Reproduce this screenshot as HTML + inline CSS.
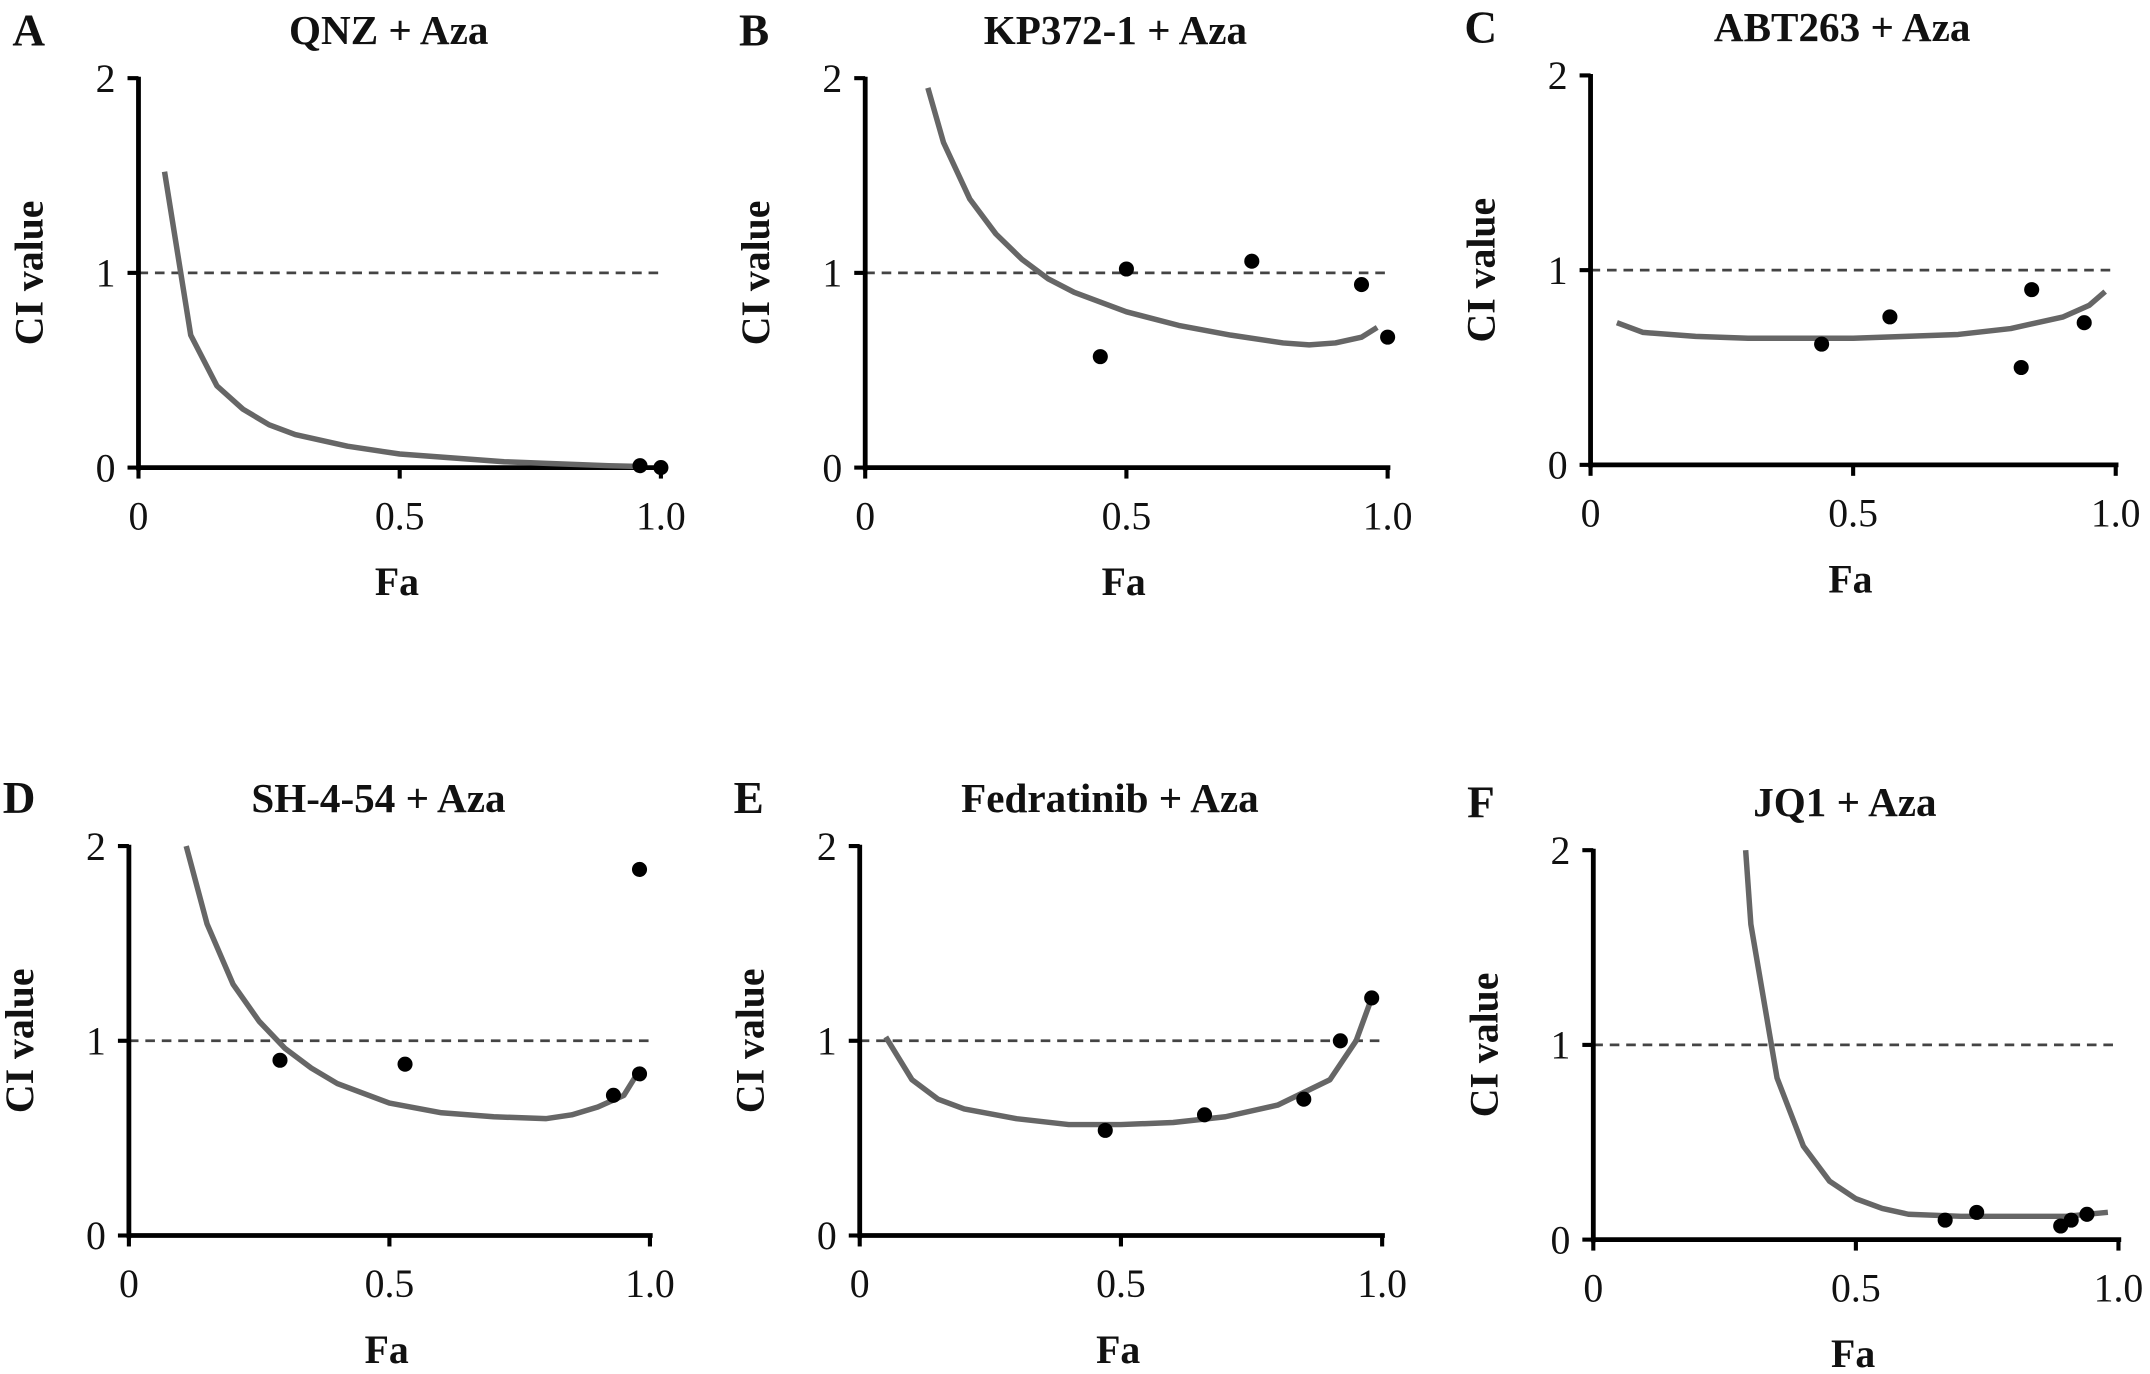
<!DOCTYPE html>
<html><head><meta charset="utf-8"><style>
html,body{margin:0;padding:0;background:#fff;}
svg{display:block;}
svg text{font-family:"Liberation Serif","DejaVu Serif",serif;fill:#111;}
</style></head><body>
<svg id="fig" width="2150" height="1374" viewBox="0 0 1568 1002" preserveAspectRatio="none" xmlns="http://www.w3.org/2000/svg" font-family="Liberation Serif, DejaVu Serif, serif"></svg>
<script>
const panelLetters = ["A","B","C","D","E","F"];
const panelTitles = ["QNZ + Aza","KP372-1 + Aza","ABT263 + Aza","SH-4-54 + Aza","Fedratinib + Aza","JQ1 + Aza"];
const xTicks = [0,0.5,1.0];
const xTickLabels = ["0","0.5","1.0"];
const yTicks = [0,1,2];
const yTickLabels = ["0","1","2"];
const curveFa = [
 [0.05,0.1,0.15,0.2,0.25,0.3,0.4,0.5,0.6,0.7,0.8,0.9,0.97],
 [0.12,0.15,0.2,0.25,0.3,0.35,0.4,0.5,0.6,0.7,0.8,0.85,0.9,0.95,0.98],
 [0.05,0.1,0.2,0.3,0.4,0.5,0.6,0.7,0.8,0.9,0.95,0.98],
 [0.11,0.15,0.2,0.25,0.3,0.35,0.4,0.5,0.6,0.7,0.8,0.85,0.9,0.95,0.98],
 [0.05,0.1,0.15,0.2,0.3,0.4,0.5,0.6,0.7,0.8,0.9,0.95,0.98],
 [0.29,0.3,0.35,0.4,0.45,0.5,0.55,0.6,0.7,0.8,0.9,0.98]
];
const curveCI = [
 [1.52,0.68,0.42,0.3,0.22,0.17,0.11,0.07,0.05,0.03,0.02,0.01,0.005],
 [1.95,1.67,1.38,1.2,1.07,0.97,0.9,0.8,0.73,0.68,0.64,0.63,0.64,0.67,0.72],
 [0.73,0.68,0.66,0.65,0.65,0.65,0.66,0.67,0.7,0.76,0.82,0.89],
 [2.0,1.6,1.29,1.1,0.96,0.86,0.78,0.68,0.63,0.61,0.6,0.62,0.66,0.72,0.85],
 [1.02,0.8,0.7,0.65,0.6,0.57,0.57,0.58,0.61,0.67,0.8,1.0,1.22],
 [2.0,1.62,0.83,0.48,0.3,0.21,0.16,0.13,0.12,0.12,0.12,0.14]
];
const pointFa = [
 [0.96,1.0],
 [0.45,0.5,0.74,0.95,1.0],
 [0.44,0.57,0.82,0.84,0.94],
 [0.29,0.53,0.93,0.98,0.98],
 [0.47,0.66,0.85,0.92,0.98],
 [0.67,0.73,0.89,0.91,0.94]
];
const pointCI = [
 [0.01,0.0],
 [0.57,1.02,1.06,0.94,0.67],
 [0.62,0.76,0.5,0.9,0.73],
 [0.9,0.88,0.72,0.83,1.88],
 [0.54,0.62,0.7,1.0,1.22],
 [0.1,0.14,0.07,0.1,0.13]
];
const layout = [
 {x0:101,x1:482,yT:57,yB:341},
 {x0:631,x1:1012,yT:57,yB:341},
 {x0:1160,x1:1543,yT:55,yB:339},
 {x0:94,x1:474,yT:617,yB:901},
 {x0:627,x1:1008,yT:617,yB:901},
 {x0:1162,x1:1545,yT:620,yB:904}
];
const NS="http://www.w3.org/2000/svg";
const svg=document.getElementById('fig');
const FF='Liberation Serif, DejaVu Serif, serif';
function mk(tag,attrs,parent){const e=document.createElementNS(NS,tag);for(const k in attrs)e.setAttribute(k,attrs[k]);if(tag==='text')e.setAttribute('font-family',FF);parent.appendChild(e);return e;}
layout.forEach((L,i)=>{
  const sx=v=>L.x0+v*(L.x1-L.x0);
  const sy=v=>L.yB-v/2*(L.yB-L.yT);
  const g=mk('g',{},svg);
  
  
  const lt=mk('text',{x:L.x0-92,y:L.yT-24,'font-size':33,'font-weight':'bold'},g);
  lt.textContent=panelLetters[i];
  
  
  const tt=mk('text',{x:(L.x0+L.x1)/2-8,y:L.yT-25,'font-size':30,'font-weight':'bold','text-anchor':'middle'},g);
  tt.textContent=panelTitles[i];
  
  
  const dl=mk('line',{x1:sx(0),x2:sx(1),y1:sy(1),y2:sy(1),stroke:'#444','stroke-width':2,'stroke-dasharray':'7,5'},g);
  
  
  const ya=mk('line',{x1:L.x0,x2:L.x0,y1:L.yT-1,y2:L.yB+2,stroke:'#000','stroke-width':3.5},g);
  
  
  const xa=mk('line',{x1:L.x0-1,x2:L.x1+2,y1:L.yB,y2:L.yB,stroke:'#000','stroke-width':3.5},g);
  
  
  yTicks.forEach((v,k)=>{
    mk('line',{x1:L.x0-8,x2:L.x0,y1:sy(v),y2:sy(v),stroke:'#000','stroke-width':3},g);
    const t=mk('text',{x:L.x0-24,y:sy(v)+10,'font-size':29,'text-anchor':'middle'},g);
    t.textContent=yTickLabels[k];
    
    
  });
  xTicks.forEach((v,k)=>{
    mk('line',{x1:sx(v),x2:sx(v),y1:L.yB,y2:L.yB+8,stroke:'#000','stroke-width':3},g);
    const t=mk('text',{x:sx(v),y:L.yB+45,'font-size':29,'text-anchor':'middle'},g);
    t.textContent=xTickLabels[k];
    
    
  });
  const xt=mk('text',{x:(L.x0+L.x1)/2-2,y:L.yB+93,'font-size':29,'font-weight':'bold','text-anchor':'middle'},g);
  xt.textContent='Fa';
  
  
  const cy=(L.yT+L.yB)/2;
  const yt=mk('text',{x:L.x0-70,y:cy,'font-size':29,'font-weight':'bold','text-anchor':'middle',transform:`rotate(-90 ${L.x0-70} ${cy})`},g);
  yt.textContent='CI value';
  
  
  const d=curveFa[i].map((f,k)=>(k?'L':'M')+sx(f).toFixed(1)+','+sy(curveCI[i][k]).toFixed(1)).join(' ');
  const p=mk('path',{d:d,fill:'none',stroke:'#666','stroke-width':4,'stroke-linejoin':'round'},g);
  
  
  pointFa[i].forEach((f,k)=>{
    const c=mk('circle',{cx:sx(f),cy:sy(pointCI[i][k]),r:5.5,fill:'#000'},g);
    
    
  });
});
</script>
</body></html>
